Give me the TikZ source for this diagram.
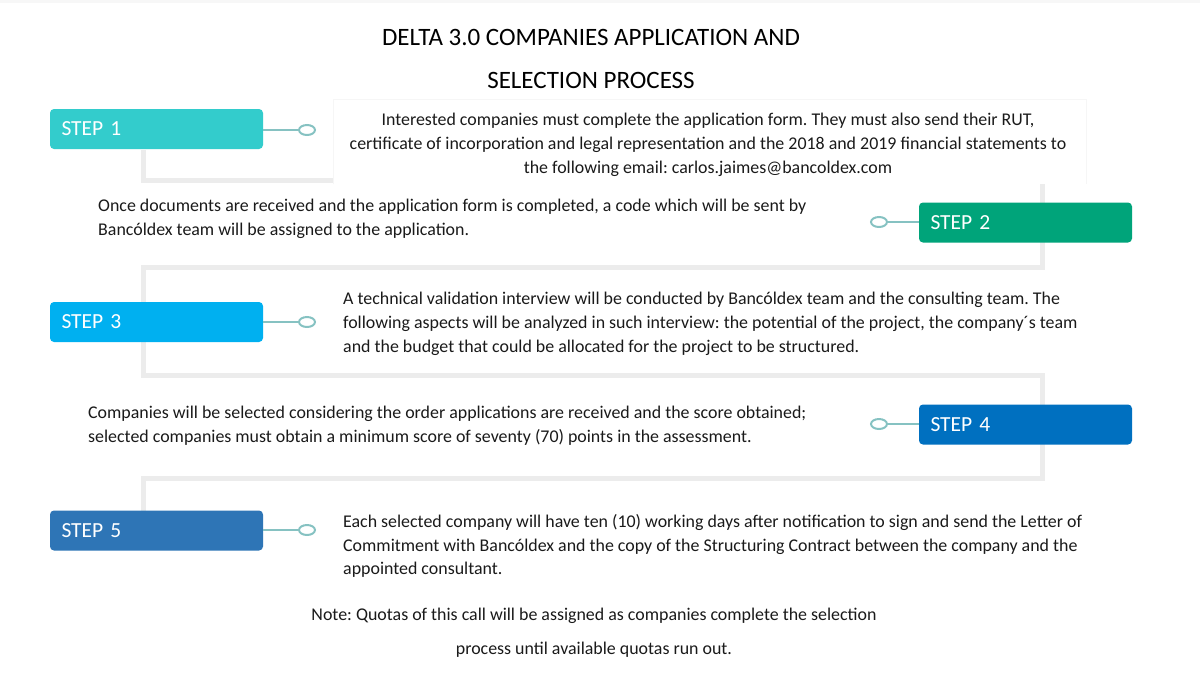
\documentclass[tikz,border=0pt]{standalone}
\usepackage{fontspec}
\setmainfont{Carlito}
\usepackage{xcolor,tikz}
\usetikzlibrary{positioning,calc,shapes.geometric}
\definecolor{stepA}{HTML}{33CCCC}
\definecolor{stepB}{HTML}{00A47A}
\definecolor{stepC}{HTML}{00B0F0}
\definecolor{stepD}{HTML}{0070C0}
\definecolor{stepE}{HTML}{2E75B6}
\definecolor{ringc}{HTML}{86C2C2}
\definecolor{trackc}{HTML}{ECECEC}
\definecolor{inkc}{HTML}{1A1A1A}
\tikzset{
  stepbox/.style={rounded corners=4pt,text=white,minimum height=40pt,text width=190pt,
    inner xsep=11.5pt,align=left,font=\fontsize{21.5}{24}\selectfont},
  dotring/.style={ellipse,draw=ringc,line width=2pt,minimum width=16pt,minimum height=10pt,inner sep=0pt},
  desc/.style={text=inkc,align=left,font=\fontsize{17.9}{23.8}\selectfont,inner sep=0pt},
  tie/.style={ringc,line width=2pt}
}
\frenchspacing
\begin{document}
\begin{tikzpicture}[x=1pt,y=-1pt]
\useasboundingbox (0,0) rectangle (1200,697);
\fill[white] (0,0) rectangle (1200,697);
\fill[gray!6] (0,0) rectangle (1200,3);
% background track
\draw[trackc,line width=5pt] (143,150)--(143,180)--(1042,180)--(1042,267)--(143,267)--(143,375)
  --(1042,375)--(1042,478)--(143,478)--(143,512);
\fill[white] (333,99) rectangle (1086,184); \draw[gray!7] (333,184)--(333,99)--(1086,99)--(1086,184);
% title
\node[font=\fontsize{25}{28}\selectfont] (title) at (591,37) {DELTA 3.0 COMPANIES APPLICATION AND};
\node[font=\fontsize{25}{28}\selectfont] (title2) at (591,80) {SELECTION PROCESS};
% steps
\node[stepbox,fill=stepA] (step1) at (156.5,129) {STEP 1};
\node[stepbox,fill=stepB] (step2) at (1025.5,222.5) {STEP 2};
\node[stepbox,fill=stepC] (step3) at (156.5,322) {STEP 3};
\node[stepbox,fill=stepD] (step4) at (1025.5,424.5) {STEP 4};
\node[stepbox,fill=stepE] (step5) at (156.5,530.5) {STEP 5};
\foreach \n/\y in {1/130,3/322,5/530}{
  \node[dotring] (dot\n) at (307,\y) {};
  \draw[tie] (step\n.east|-dot\n)--(dot\n.west);}
\foreach \n/\y in {2/222,4/424}{
  \node[dotring] (dot\n) at (879,\y) {};
  \draw[tie] (step\n.west|-dot\n)--(dot\n.east);}
% texts
\node[desc,align=center] (txt1) at (708,145) {Interested companies must complete the application form. They must also send their RUT,\\
certificate of incorporation and legal representation and the 2018 and 2019 financial statements to\\
the following email: carlos.jaimes@bancoldex.com};
\node[desc,anchor=west] (txt2) at (98,219) {Once documents are received and the application form is completed, a code which will be sent by\\
Bancóldex team will be assigned to the application.};
\node[desc,anchor=west] (txt3) at (343,324) {A technical validation interview will be conducted by Bancóldex team and the consulting team. The\\
following aspects will be analyzed in such interview: the potential of the project, the company´s team\\
and the budget that could be allocated for the project to be structured.};
\node[desc,anchor=west] (txt4) at (88,426) {Companies will be selected considering the order applications are received and the score obtained;\\
selected companies must obtain a minimum score of seventy (70) points in the assessment.};
\node[desc,anchor=west] (txt5) at (343,546) {Each selected company will have ten (10) working days after notification to sign and send the Letter of\\
Commitment with Bancóldex and the copy of the Structuring Contract between the company and the\\
appointed consultant.};
\node[desc,align=center,font=\fontsize{17.9}{34}\selectfont] (note) at (594,633) {Note: Quotas of this call will be assigned as companies complete the selection\\
process until available quotas run out.};
\end{tikzpicture}
\end{document}
